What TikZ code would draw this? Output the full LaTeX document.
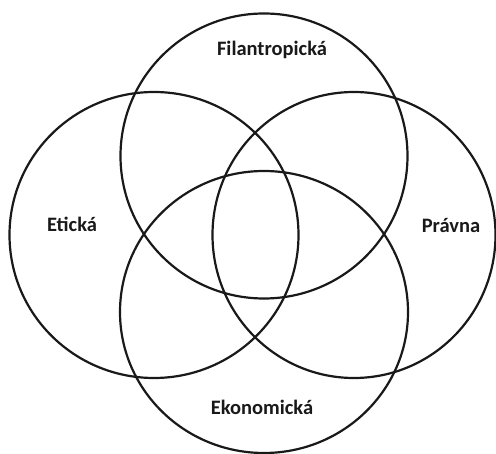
\documentclass[tikz,border=0pt]{standalone}
\usepackage{fontspec}
\setmainfont{Carlito}
\begin{document}
\begin{tikzpicture}[x=1pt,y=-1pt,
  ring/.style={draw=black!90,line width=2.2pt},
  lbl/.style={font=\fontsize{20.5}{24}\selectfont\bfseries,text=black!90,inner sep=0pt}]
\useasboundingbox[fill=white] (0,0) rectangle (496,454);
\coordinate (ct) at (264,156);
\coordinate (cl) at (154,235);
\coordinate (cr) at (354,235);
\coordinate (cb) at (264,312);
\draw[ring] (ct) ellipse [x radius=143.5,y radius=142.5];
\draw[ring] (cl) ellipse [x radius=144.5,y radius=143];
\draw[ring] (cr) ellipse [x radius=141.5,y radius=143];
\draw[ring] (cb) ellipse [x radius=144,y radius=141];
\node[lbl] (fil) at (272,50) {Filantropická};
\node[lbl] (eti) at (72,224) {Etická};
\node[lbl] (pra) at (451,226) {Právna};
\node[lbl] (eko) at (262,407) {Ekonomická};
\end{tikzpicture}
\end{document}
